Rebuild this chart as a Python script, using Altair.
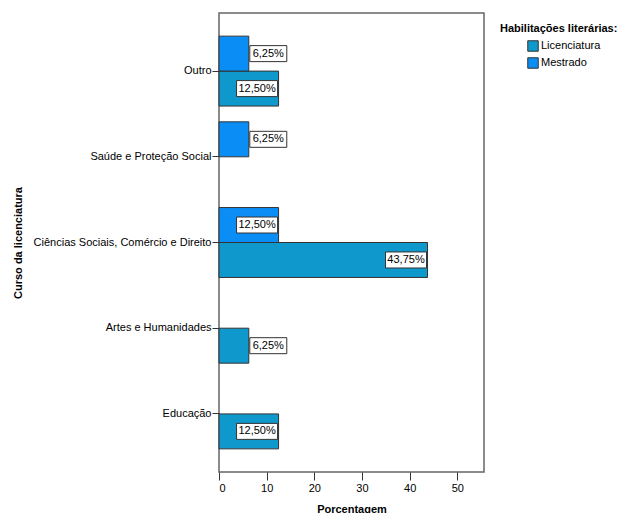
import altair as alt
import pandas as pd

courses = ["Outro", "Saúde e Proteção Social", "Ciências Sociais, Comércio e Direito",
           "Artes e Humanidades", "Educação"]
levels = ["Licenciatura", "Mestrado"]
level_colors = ["#0f98cb", "#0a8ef5"]

lic_course = ["Outro", "Ciências Sociais, Comércio e Direito", "Artes e Humanidades", "Educação"]
lic_pct = [12.5, 43.75, 6.25, 12.5]
mes_course = ["Outro", "Saúde e Proteção Social", "Ciências Sociais, Comércio e Direito"]
mes_pct = [6.25, 6.25, 12.5]
x_ticks = [0, 10, 20, 30, 40, 50]

rows = [{"level": "Licenciatura", "course": c, "pct": p} for c, p in zip(lic_course, lic_pct)]
rows += [{"level": "Mestrado", "course": c, "pct": p} for c, p in zip(mes_course, mes_pct)]
df = pd.DataFrame(rows)
df["label"] = df["pct"].map(lambda v: f"{v:.2f}".replace(".", ",") + "%")

FONT = "Liberation Sans"

y_enc = alt.Y("course:N", sort=courses,
              scale=alt.Scale(domain=courses, paddingInner=0.184, paddingOuter=0.27),
              axis=alt.Axis(title="Curso da licenciatura", domain=False, tickSize=7,
                            tickColor="#333", labelPadding=1, labelFontSize=11,
                            labelFont=FONT, labelColor="#000", titleFont=FONT,
                            titleFontSize=11, titleFontWeight="bold", titleColor="#000",
                            titlePadding=10))
yoff = alt.YOffset("level:N", scale=alt.Scale(domain=["Mestrado", "Licenciatura"],
                                              paddingInner=0, paddingOuter=0))
x_enc = alt.X("pct:Q", scale=alt.Scale(domain=[0, 55.6], nice=False, zero=True),
              axis=alt.Axis(values=x_ticks, title="Porcentagem", grid=False, domain=False,
                            tickSize=8, tickColor="#333", labelPadding=2, labelFontSize=11,
                            labelFont=FONT, labelColor="#000", titleFont=FONT,
                            titleFontSize=11, titleFontWeight="bold", titleColor="#000",
                            titlePadding=10))

base = alt.Chart(df)

bars = base.mark_bar(stroke="#333", strokeWidth=1).encode(
    x=x_enc, y=y_enc, yOffset=yoff,
    color=alt.Color("level:N", scale=alt.Scale(domain=levels, range=level_colors),
                    legend=alt.Legend(title=None, orient="none", legendX=308, legendY=27,
                                      symbolType="square", symbolSize=110,
                                      symbolStrokeColor="#333", symbolStrokeWidth=1,
                                      labelFont=FONT, labelFontSize=11, labelColor="#000",
                                      rowPadding=1, labelOffset=2)))

inside = base.transform_filter("datum.pct >= 10")
outside = base.transform_filter("datum.pct < 10")

box_in = inside.mark_bar(height=16, fill="white", stroke="#333", strokeWidth=1,
                         xOffset=-42, x2Offset=-1).encode(
    x=x_enc, x2=alt.X2("pct:Q"), y=y_enc, yOffset=yoff)
text_in = inside.mark_text(align="center", baseline="middle", dx=-21.5, font=FONT,
                           fontSize=11, color="#000").encode(
    x=x_enc, y=y_enc, yOffset=yoff, text="label:N")

box_out = outside.mark_bar(height=16, fill="white", stroke="#333", strokeWidth=1,
                           xOffset=1, x2Offset=38).encode(
    x=x_enc, x2=alt.X2("pct:Q"), y=y_enc, yOffset=yoff)
text_out = outside.mark_text(align="center", baseline="middle", dx=19.5, font=FONT,
                             fontSize=11, color="#000").encode(
    x=x_enc, y=y_enc, yOffset=yoff, text="label:N")

legend_title = alt.Chart(pd.DataFrame({"t": ["Habilitações literárias:"]})).mark_text(
    align="left", baseline="alphabetic", font=FONT, fontSize=11, fontWeight="bold",
    color="#000").encode(x=alt.value(281), y=alt.value(19), text="t:N")

chart = alt.layer(bars, box_in, text_in, box_out, text_out, legend_title).properties(
    width=265, height=459,
    autosize=alt.AutoSizeParams(type="none"),
    padding={"left": 211, "top": 5, "right": 136, "bottom": 41},
).configure_view(stroke="#666", strokeWidth=1.5)

chart.save("out.html", embed_options={"renderer": "svg", "actions": False})
